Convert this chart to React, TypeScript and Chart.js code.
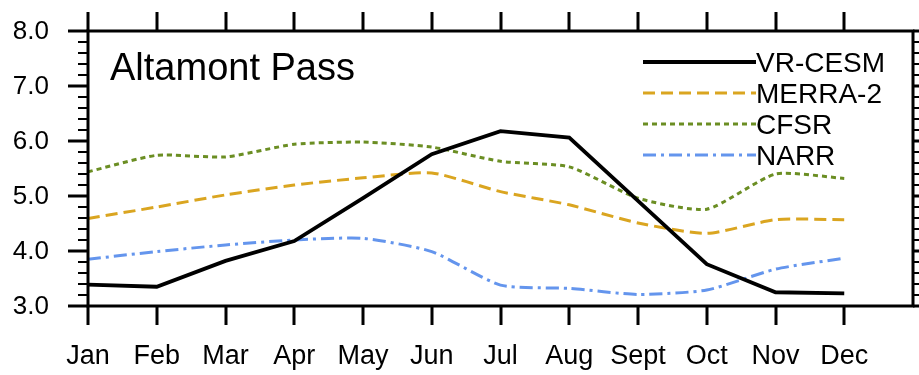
import React, { useEffect, useRef } from "react";
import { Chart, registerables } from "chart.js";

Chart.register(...registerables);

const months = ["Jan", "Feb", "Mar", "Apr", "May", "Jun", "Jul", "Aug", "Sept", "Oct", "Nov", "Dec"];
const vrCesm = [3.39, 3.35, 3.82, 4.18, 4.96, 5.76, 6.18, 6.06, 4.91, 3.76, 3.25, 3.23];
const merra2 = [4.59, 4.8, 5.02, 5.2, 5.33, 5.42, 5.08, 4.84, 4.51, 4.32, 4.57, 4.57];
const cfsr = [5.44, 5.74, 5.71, 5.94, 5.98, 5.89, 5.63, 5.53, 4.96, 4.76, 5.4, 5.32];
const narr = [3.85, 3.99, 4.11, 4.2, 4.23, 3.99, 3.38, 3.32, 3.21, 3.29, 3.67, 3.87];
const yMajorTicks = [3, 4, 5, 6, 7, 8];
const yMinorStep = 0.2;
const chartTitle = "Altamont Pass";

const FONT = '"Liberation Sans", Arial, Helvetica, sans-serif';

const axesPlugin = {
  id: "nclAxes",
  afterDraw(chart: any) {
    const ctx = chart.ctx;
    const xs = chart.scales.x;
    const ys = chart.scales.y;
    const { left, right, top, bottom } = chart.chartArea;
    ctx.save();
    ctx.strokeStyle = "#000";
    ctx.fillStyle = "#000";
    ctx.lineCap = "butt";

    // frame
    ctx.lineWidth = 3;
    ctx.strokeRect(left, top, right - left, bottom - top);

    // y ticks (left & right)
    const yMin = ys.min, yMax = ys.max;
    const n = Math.round((yMax - yMin) / yMinorStep);
    for (let i = 0; i <= n; i++) {
      const v = yMin + i * yMinorStep;
      const isMajor = yMajorTicks.some((m) => Math.abs(m - v) < 1e-6);
      const py = Math.round(ys.getPixelForValue(v));
      const len = isMajor ? 20 : 10;
      ctx.lineWidth = isMajor ? 3 : 2;
      ctx.beginPath();
      ctx.moveTo(left - len, py);
      ctx.lineTo(left, py);
      ctx.moveTo(right, py);
      ctx.lineTo(right + len, py);
      ctx.stroke();
    }

    // x ticks (top & bottom)
    ctx.lineWidth = 3;
    months.forEach((_, i) => {
      const px = Math.round(xs.getPixelForValue(i));
      ctx.beginPath();
      ctx.moveTo(px, top - 19);
      ctx.lineTo(px, top);
      ctx.moveTo(px, bottom);
      ctx.lineTo(px, bottom + 19);
      ctx.stroke();
    });

    // y labels
    ctx.font = `26px ${FONT}`;
    ctx.textAlign = "right";
    ctx.textBaseline = "middle";
    yMajorTicks.forEach((v) => {
      ctx.fillText(v.toFixed(1), 49, ys.getPixelForValue(v) + 1);
    });

    // x labels
    ctx.font = `27px ${FONT}`;
    ctx.textAlign = "center";
    ctx.textBaseline = "alphabetic";
    months.forEach((m, i) => {
      ctx.fillText(m, xs.getPixelForValue(i), 364);
    });

    // title
    ctx.font = `38px ${FONT}`;
    ctx.textAlign = "left";
    ctx.fillText(chartTitle, 110, 80);

    // legend
    ctx.font = `28px ${FONT}`;
    chart.data.datasets.forEach((ds: any, i: number) => {
      const ly = 62 + i * 31;
      ctx.save();
      ctx.strokeStyle = ds.borderColor;
      ctx.lineWidth = ds.borderWidth;
      ctx.setLineDash(ds.borderDash || []);
      ctx.beginPath();
      ctx.moveTo(643, ly);
      ctx.lineTo(756, ly);
      ctx.stroke();
      ctx.restore();
      ctx.fillStyle = "#000";
      ctx.fillText(ds.label, 756, ly + 10);
    });

    ctx.restore();
  },
};

function toPoints(arr: number[]) {
  return arr.map((v, i) => ({ x: i, y: v }));
}

export default function App() {
  const ref = useRef<HTMLCanvasElement | null>(null);

  useEffect(() => {
    document.body.style.margin = "0";
    const canvas = ref.current;
    if (!canvas) return;
    const chart = new Chart(canvas, {
      type: "line",
      data: {
        datasets: [
          {
            label: "VR-CESM",
            data: toPoints(vrCesm),
            borderColor: "#000000",
            borderWidth: 3.8,
            borderDash: [],
            tension: 0,
            pointRadius: 0,
          },
          {
            label: "MERRA-2",
            data: toPoints(merra2),
            borderColor: "#DAA520",
            borderWidth: 3,
            borderDash: [12, 6],
            tension: 0.2,
            pointRadius: 0,
          },
          {
            label: "CFSR",
            data: toPoints(cfsr),
            borderColor: "#6B8E23",
            borderWidth: 3,
            borderDash: [5, 4],
            tension: 0.2,
            pointRadius: 0,
          },
          {
            label: "NARR",
            data: toPoints(narr),
            borderColor: "#6495ED",
            borderWidth: 3,
            borderDash: [13, 5, 3, 5],
            tension: 0.2,
            pointRadius: 0,
          },
        ],
      },
      options: {
        responsive: false,
        maintainAspectRatio: false,
        animation: false,
        devicePixelRatio: 1,
        layout: { padding: { left: 88, right: 6, top: 31, bottom: 69 } },
        plugins: {
          legend: { display: false },
          title: { display: false },
          tooltip: { enabled: false },
        },
        scales: {
          x: { type: "linear", min: 0, max: 12, display: false },
          y: { type: "linear", min: 3, max: 8, display: false },
        },
      },
      plugins: [axesPlugin],
    });
    return () => chart.destroy();
  }, []);

  return (
    <div style={{ width: 919, height: 375, background: "#fff" }}>
      <canvas ref={ref} width={919} height={375} style={{ display: "block" }} />
    </div>
  );
}
